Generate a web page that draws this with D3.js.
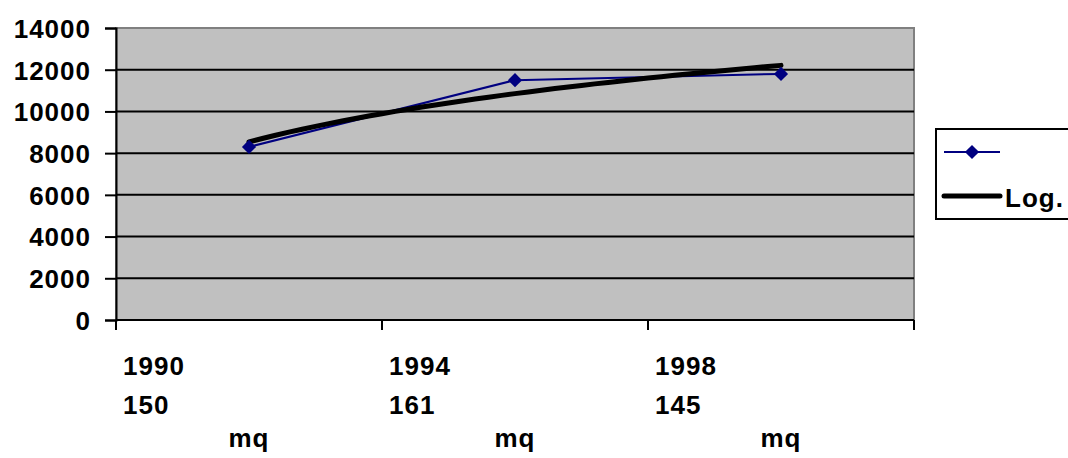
<!DOCTYPE html>
<html lang="en">
<head>
    <meta charset="UTF-8">
    <title>Trend</title>
    <script src="https://d3js.org/d3.v7.min.js"></script>
    <style>
        body { margin: 0; background: #fff; }
        text { font-family: "Liberation Sans", Arial, sans-serif; font-weight: bold; fill: #000; letter-spacing: 1px; }
    </style>
</head>
<body>
    <svg width="1068" height="458"></svg>
    <script>
        // data
        const categories = ["1990", "1994", "1998"];
        const labelLine2 = ["150", "161", "145"];
        const labelLine3 = ["mq", "mq", "mq"];
        const values = [8300, 11500, 11800];
        const yTicks = [0, 2000, 4000, 6000, 8000, 10000, 12000, 14000];
        const legendLabels = ["", "Log."];

        const svg = d3.select("svg");
        const plotLeft = 116, plotRight = 914, plotTop = 28, plotBottom = 320;

        const x = d3.scaleBand().domain(categories).range([plotLeft, plotRight]);
        const y = d3.scaleLinear().domain([0, 14000]).range([plotBottom, plotTop]);

        // plot area
        svg.append("rect")
            .attr("x", plotLeft).attr("y", plotTop)
            .attr("width", plotRight - plotLeft).attr("height", plotBottom - plotTop)
            .attr("fill", "#c0c0c0")
            .attr("stroke", "#808080")
            .attr("stroke-width", 2);

        // gridlines
        svg.append("g")
            .selectAll("line")
            .data(yTicks.filter(d => d > 0 && d < 14000))
            .join("line")
            .attr("x1", plotLeft).attr("x2", plotRight)
            .attr("y1", d => y(d)).attr("y2", d => y(d))
            .attr("stroke", "#000").attr("stroke-width", 2);

        // y axis
        const yAxis = svg.append("g")
            .attr("transform", `translate(${plotLeft},0)`)
            .call(d3.axisLeft(y).tickValues(yTicks).tickSize(11).tickPadding(14).tickFormat(d3.format("d")));
        yAxis.select(".domain").attr("stroke", "#000").attr("stroke-width", 2);
        yAxis.selectAll(".tick line").attr("stroke", "#000").attr("stroke-width", 2);
        yAxis.selectAll("text").attr("font-size", 26).attr("font-family", null).attr("dy", "0.36em");

        // x axis line and ticks at band edges
        svg.append("line")
            .attr("x1", plotLeft).attr("x2", plotRight)
            .attr("y1", plotBottom).attr("y2", plotBottom)
            .attr("stroke", "#000").attr("stroke-width", 2);
        const edges = categories.map(c => x(c)).concat([x(categories[categories.length - 1]) + x.bandwidth()]);
        svg.append("g").selectAll("line")
            .data(edges)
            .join("line")
            .attr("x1", d => d).attr("x2", d => d)
            .attr("y1", plotBottom).attr("y2", plotBottom + 10)
            .attr("stroke", "#000").attr("stroke-width", 2);

        // category labels
        const lab = svg.append("g").selectAll("g")
            .data(categories)
            .join("g");
        lab.append("text")
            .attr("x", d => x(d) + 7).attr("y", 375)
            .attr("font-size", 26)
            .text(d => d);
        lab.append("text")
            .attr("x", d => x(d) + 7).attr("y", 414)
            .attr("font-size", 26)
            .text((d, i) => labelLine2[i]);
        lab.append("text")
            .attr("x", d => x(d) + x.bandwidth() / 2).attr("y", 447)
            .attr("text-anchor", "middle")
            .attr("font-size", 26)
            .text((d, i) => labelLine3[i]);

        // logarithmic trend (least squares on ln of index)
        const lx = values.map((v, i) => Math.log(i + 1));
        const mx = d3.mean(lx), my = d3.mean(values);
        const b = d3.sum(lx, (l, i) => (l - mx) * (values[i] - my)) / d3.sum(lx, l => (l - mx) * (l - mx));
        const a = my - b * mx;
        const trend = d3.range(1, values.length + 0.001, 0.05).map(t => ({ t, v: a + b * Math.log(t) }));
        const tx = d3.scaleLinear().domain([1, values.length])
            .range([x(categories[0]) + x.bandwidth() / 2, x(categories[categories.length - 1]) + x.bandwidth() / 2]);

        // series line
        svg.append("path")
            .datum(values)
            .attr("d", d3.line().x((d, i) => x(categories[i]) + x.bandwidth() / 2).y(d => y(d)))
            .attr("fill", "none").attr("stroke", "#000080").attr("stroke-width", 2);

        svg.append("path")
            .datum(trend)
            .attr("d", d3.line().x(d => tx(d.t)).y(d => y(d.v)))
            .attr("fill", "none").attr("stroke", "#000").attr("stroke-width", 5)
            .attr("stroke-linecap", "round");

        const diamond = d3.symbol().type(d3.symbolSquare).size(100);
        svg.append("g").selectAll("path")
            .data(values)
            .join("path")
            .attr("d", diamond)
            .attr("transform", (d, i) => `translate(${x(categories[i]) + x.bandwidth() / 2},${y(d)}) rotate(45)`)
            .attr("fill", "#000080");

        // legend
        const lg = svg.append("g");
        lg.append("rect")
            .attr("x", 936).attr("y", 129)
            .attr("width", 150).attr("height", 90)
            .attr("fill", "#fff").attr("stroke", "#000").attr("stroke-width", 2);
        lg.append("line")
            .attr("x1", 944).attr("x2", 1000).attr("y1", 152).attr("y2", 152)
            .attr("stroke", "#000080").attr("stroke-width", 2);
        lg.append("path")
            .attr("d", diamond)
            .attr("transform", "translate(972,152) rotate(45)")
            .attr("fill", "#000080");
        lg.append("line")
            .attr("x1", 944).attr("x2", 1000).attr("y1", 196).attr("y2", 196)
            .attr("stroke", "#000").attr("stroke-width", 5).attr("stroke-linecap", "round");
        lg.selectAll("text.leg")
            .data(legendLabels)
            .join("text")
            .attr("class", "leg")
            .attr("x", 1005).attr("y", (d, i) => 163 + i * 44)
            .attr("font-size", 26)
            .text(d => d);
    </script>
</body>
</html>
